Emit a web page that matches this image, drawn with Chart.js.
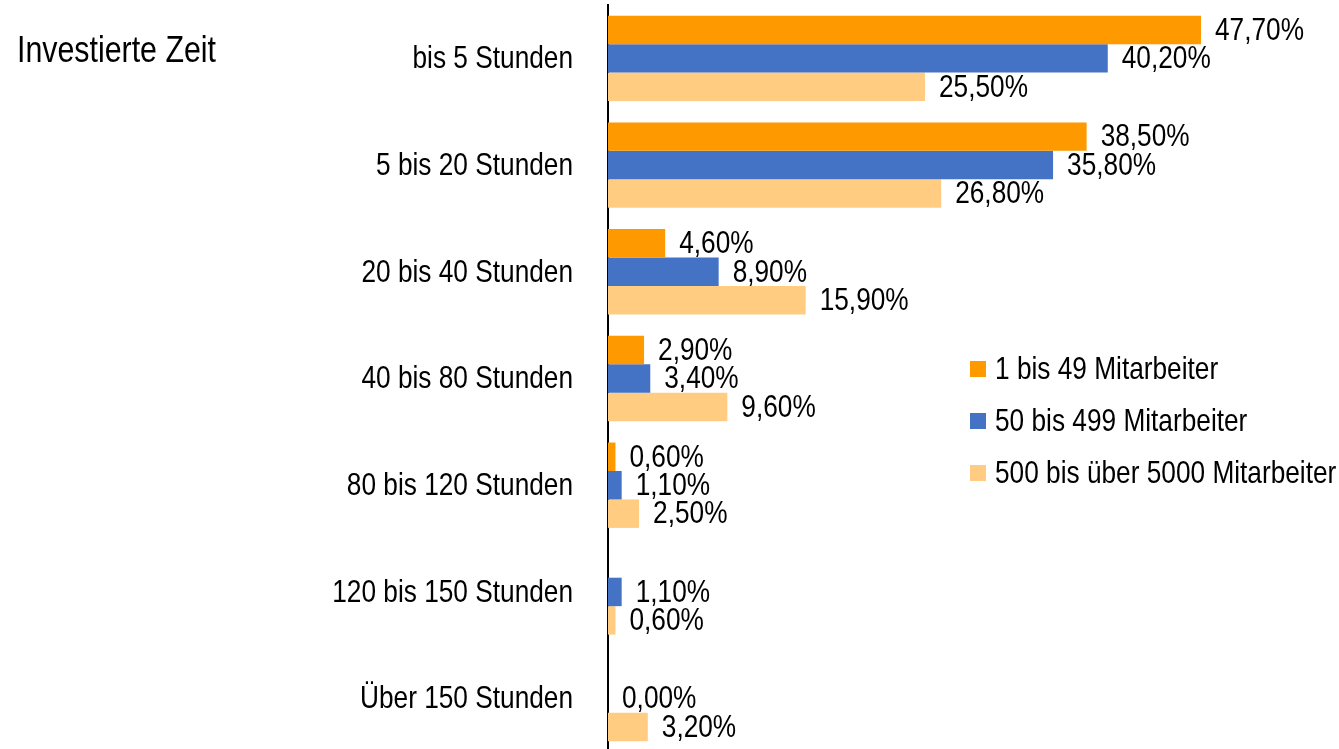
<!DOCTYPE html>
<html lang="de">
<head>
<meta charset="utf-8">
<title>Investierte Zeit</title>
<script src="https://cdn.jsdelivr.net/npm/chart.js@4/dist/chart.umd.min.js"></script>
<style>
  html,body{margin:0;padding:0;background:#fff;overflow:hidden}
  #wrap{position:relative;width:1339px;height:752px}
</style>
</head>
<body>
<div id="wrap"><canvas id="zeitChart"></canvas></div>
<script>
// Daten
const kategorien = ['bis 5 Stunden','5 bis 20 Stunden','20 bis 40 Stunden','40 bis 80 Stunden','80 bis 120 Stunden','120 bis 150 Stunden','Über 150 Stunden'];
const klein  = [47.7, 38.5, 4.6, 2.9, 0.6, null, null];   // 1 bis 49 Mitarbeiter
const mittel = [40.2, 35.8, 8.9, 3.4, 1.1, 1.1, 0.0];     // 50 bis 499 Mitarbeiter
const gross  = [25.5, 26.8, 15.9, 9.6, 2.5, 0.6, 3.2];    // 500 bis über 5000 Mitarbeiter
const serienNamen = ['1 bis 49 Mitarbeiter','50 bis 499 Mitarbeiter','500 bis über 5000 Mitarbeiter'];
const farben = ['#FF9900','#4472C4','#FFCC82'];

const FONT = '"Liberation Sans", Arial, sans-serif';
const SCHMAL = 0.82; // Schrift horizontal stauchen (Narrow-Optik)

function $(id){return document.getElementById(id)}

function fmt(v){ return v.toFixed(2).replace('.', ',') + '%'; }

// schmaler Text: horizontal gestaucht zeichnen
function schmalText(ctx, text, x, y, align){
  ctx.save();
  ctx.translate(x, y);
  ctx.scale(SCHMAL, 1);
  ctx.textAlign = align || 'left';
  ctx.fillText(text, 0, 0);
  ctx.restore();
}

// Werte rechts neben die Balken schreiben
const wertLabels = {
  id:'wertLabels',
  afterDatasetsDraw(chart){
    const ctx = chart.ctx;
    ctx.save();
    ctx.font = '32px ' + FONT;
    ctx.fillStyle = '#000';
    ctx.textBaseline = 'middle';
    chart.data.datasets.forEach((ds,i)=>{
      chart.getDatasetMeta(i).data.forEach((bar,j)=>{
        const v = ds.data[j];
        if(v === null || v === undefined) return;
        schmalText(ctx, fmt(v), bar.x + 14, bar.y + 1);
      });
    });
    ctx.restore();
  }
};

// Kategorien, Titel und Legende
const extras = {
  id:'extras',
  afterDraw(chart){
    const ctx = chart.ctx;
    const a = chart.chartArea;
    const yScale = chart.scales.y;
    ctx.save();
    ctx.fillStyle = '#000';
    ctx.textBaseline = 'middle';

    ctx.font = '32px ' + FONT;
    kategorien.forEach((k,i)=>{
      schmalText(ctx, k, a.left - 35, yScale.getPixelForTick(i) + 1, 'right');
    });

    ctx.font = '37px ' + FONT;
    schmalText(ctx, 'Investierte Zeit', 17, 52);

    ctx.font = '32px ' + FONT;
    const lx = a.left + 362, ly = 369, gap = 52;
    serienNamen.forEach((n,i)=>{
      const y = ly + i*gap;
      ctx.fillStyle = farben[i];
      ctx.fillRect(lx, y - 8, 16, 16);
      ctx.fillStyle = '#000';
      schmalText(ctx, n, lx + 25, y + 1);
    });
    ctx.restore();
  }
};

new Chart($('zeitChart'), {
  type:'bar',
  data:{
    labels:kategorien,
    datasets:[
      {label:serienNamen[0], data:klein,  backgroundColor:farben[0]},
      {label:serienNamen[1], data:mittel, backgroundColor:farben[1]},
      {label:serienNamen[2], data:gross,  backgroundColor:farben[2]}
    ]
  },
  options:{
    indexAxis:'y',
    responsive:true,
    maintainAspectRatio:false,
    animation:false,
    layout:{padding:{top:5,right:0,bottom:0,left:0}},
    datasets:{bar:{categoryPercentage:0.8, barPercentage:1.0}},
    plugins:{legend:{display:false}, tooltip:{enabled:false}},
    scales:{
      x:{display:false, min:0, max:58.8},
      y:{
        grid:{display:false},
        border:{display:true, color:'#000', width:2},
        ticks:{display:false},
        afterFit(scale){
          scale.width = 608;
          scale.paddingTop = 0;
          scale.paddingBottom = 0;
        }
      }
    }
  },
  plugins:[wertLabels, extras]
});
</script>
</body>
</html>
